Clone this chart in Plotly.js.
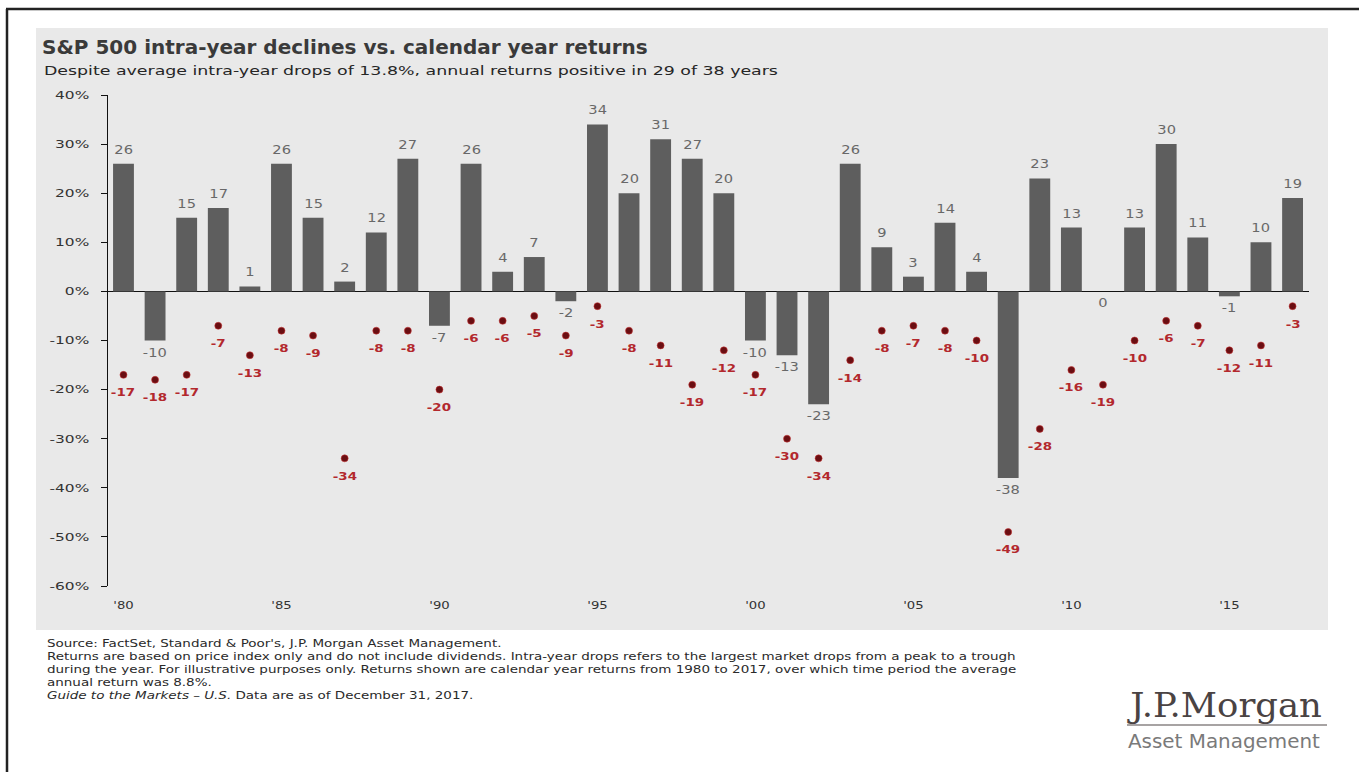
<!DOCTYPE html>
<html>
<head>
<meta charset="utf-8">
<script src="https://cdn.plot.ly/plotly-3.0.1.min.js"></script>
<style>
  html, body { margin: 0; padding: 0; background: #ffffff; }
  #chart { width: 1359px; height: 772px; }
</style>
</head>
<body>
<div id="chart"></div>
<script>
// ---- Data ----
const years = [1980,1981,1982,1983,1984,1985,1986,1987,1988,1989,1990,1991,1992,1993,1994,1995,1996,1997,1998,1999,2000,2001,2002,2003,2004,2005,2006,2007,2008,2009,2010,2011,2012,2013,2014,2015,2016,2017];
const annualReturns = [26,-10,15,17,1,26,15,2,12,27,-7,26,4,7,-2,34,20,31,27,20,-10,-13,-23,26,9,3,14,4,-38,23,13,0,13,30,11,-1,10,19];
const intraYearDrops = [-17,-18,-17,-7,-13,-8,-9,-34,-8,-8,-20,-6,-6,-5,-9,-3,-8,-11,-19,-12,-17,-30,-34,-14,-8,-7,-8,-10,-49,-28,-16,-19,-10,-6,-7,-12,-11,-3];
const xTickVals = [1980,1985,1990,1995,2000,2005,2010,2015];
const xTickText = ["'80","'85","'90","'95","'00","'05","'10","'15"];
const yTickVals = [40,30,20,10,0,-10,-20,-30,-40,-50,-60];
const yTickText = ["40%","30%","20%","10%","0%","-10%","-20%","-30%","-40%","-50%","-60%"];

const titleText = "S&amp;P 500 intra-year declines vs. calendar year returns";
const subtitleText = "Despite average intra-year drops of 13.8%, annual returns positive in 29 of 38 years";
const footnoteLines = [
  "Source: FactSet, Standard &amp; Poor's, J.P. Morgan Asset Management.",
  "Returns are based on price index only and do not include dividends. Intra-year drops refers to the largest market drops from a peak to a trough",
  "during the year. For illustrative purposes only. Returns shown are calendar year returns from 1980 to 2017, over which time period the average",
  "annual return was 8.8%.",
  "<i>Guide to the Markets – U.S.</i> Data are as of December 31, 2017."
];

// ---- Geometry helpers (pixel -> paper) ----
const W = 1359, H = 772;
const L = 108, R = 1309, T = 95, B = 586;
const px = x => (x - L) / (R - L);
const py = y => (B - y) / (B - T);

const barColor = '#5e5e5e';
const barLabelColor = '#686868';
const dropLabelColor = '#b3282d';
const sans = 'DejaVu Sans, Arial, sans-serif';

const traces = [
  {
    type: 'bar',
    x: years,
    y: annualReturns,
    width: 0.66,
    marker: { color: barColor },
    hoverinfo: 'x+y',
    showlegend: false
  },
  {
    type: 'scatter',
    mode: 'markers',
    x: years,
    y: intraYearDrops,
    marker: { color: '#6a0e12', size: 7, line: { color: 'rgba(200,50,50,0.55)', width: 1 } },
    hoverinfo: 'x+y',
    showlegend: false
  }
];

const annotations = [];
const numericIdx = [];
years.forEach((yr, i) => {
  const v = annualReturns[i];
  numericIdx.push(annotations.length);
  annotations.push({
    x: yr, y: v, xref: 'x', yref: 'y',
    text: String(v), showarrow: false,
    xanchor: 'center', yanchor: 'middle',
    yshift: v > 0 ? 14 : -12,
    font: { family: sans, size: 12, color: barLabelColor }
  });
  const d = intraYearDrops[i];
  numericIdx.push(annotations.length);
  annotations.push({
    x: yr, y: d, xref: 'x', yref: 'y',
    text: String(d), showarrow: false,
    xanchor: 'center', yanchor: 'middle',
    yshift: -18,
    font: { family: sans, size: 11, color: dropLabelColor, weight: 'bold' }
  });
});

// subtitle
const subIdx = annotations.length;
annotations.push({
  xref: 'paper', yref: 'paper', x: px(42), y: py(71),
  xanchor: 'left', yanchor: 'middle', align: 'left', showarrow: false,
  text: subtitleText,
  font: { family: sans, size: 13, color: '#262626' }
});

// footnotes (one block)
const footIdx = annotations.length;
annotations.push({
  xref: 'paper', yref: 'paper', x: px(45), y: py(636),
  xanchor: 'left', yanchor: 'top', align: 'left', showarrow: false,
  text: footnoteLines.join('<br>'),
  font: { family: sans, size: 10, color: '#2a2a2a' }
});

// logo
const logoIdx = annotations.length;
annotations.push({
  xref: 'paper', yref: 'paper', x: px(1125), y: py(705),
  xanchor: 'left', yanchor: 'middle', align: 'left', showarrow: false,
  text: 'J.P.Morgan',
  font: { family: 'DejaVu Serif, Liberation Serif, serif', size: 33, color: '#4a4343' }
});
const assetIdx = annotations.length;
annotations.push({
  xref: 'paper', yref: 'paper', x: px(1126), y: py(741),
  xanchor: 'left', yanchor: 'middle', align: 'left', showarrow: false,
  text: 'Asset Management',
  font: { family: sans, size: 19, color: '#7a7a7a' }
});

const shapes = [
  { type: 'rect', xref: 'paper', yref: 'paper', layer: 'below',
    x0: px(36), x1: px(1328), y0: py(630), y1: py(28),
    fillcolor: '#e9e9e9', line: { width: 0 } },
  { type: 'line', xref: 'paper', yref: 'paper',
    x0: px(1127), x1: px(1327), y0: py(725), y1: py(725),
    line: { color: '#8a8585', width: 1.5 } },
  { type: 'line', xref: 'paper', yref: 'paper',
    x0: px(6), x1: px(1359), y0: py(9), y1: py(9),
    line: { color: '#222222', width: 2.5 } },
  { type: 'line', xref: 'paper', yref: 'paper',
    x0: px(7), x1: px(7), y0: py(9), y1: py(772),
    line: { color: '#222222', width: 2.5 } }
];

const layout = {
  width: W, height: H,
  margin: { l: L, r: W - R, t: T, b: H - B, pad: 0 },
  paper_bgcolor: '#ffffff',
  plot_bgcolor: 'rgba(0,0,0,0)',
  showlegend: false,
  title: {
    text: titleText,
    xref: 'container', yref: 'container',
    x: 42 / W, y: 1 - 47 / H, xanchor: 'left', yanchor: 'middle',
    font: { family: sans, size: 19, color: '#3a3a3a', weight: 'bold' }
  },
  xaxis: {
    range: [1979.51, 2017.52],
    tickvals: xTickVals, ticktext: xTickText,
    showgrid: false, zeroline: false, showline: false,
    ticks: '', ticklabelstandoff: 11,
    tickfont: { family: sans, size: 11, color: '#333333' },
    fixedrange: true
  },
  yaxis: {
    range: [-60, 40],
    tickvals: yTickVals, ticktext: yTickText,
    showgrid: false,
    zeroline: true, zerolinecolor: '#111111', zerolinewidth: 1.5,
    showline: true, linecolor: '#111111', linewidth: 1.5,
    ticks: 'outside', ticklen: 6, tickcolor: '#111111', tickwidth: 1,
    ticklabelstandoff: 9,
    tickfont: { family: sans, size: 11, color: '#333333' },
    fixedrange: true
  },
  annotations: annotations,
  shapes: shapes
};

// ---- horizontal text stretch (the reference artwork is widened) ----
function stretch(el, sx, mode, targetW) {
  if (!el) return;
  let base = el.getAttribute('data-base-transform');
  if (base === null) {
    base = el.getAttribute('transform') || '';
    el.setAttribute('data-base-transform', base);
  }
  const bb = el.getBBox();
  if (!bb.width) return;
  if (targetW) sx = targetW / bb.width;
  const ax = mode === 'left' ? bb.x : (mode === 'right' ? bb.x + bb.width : bb.x + bb.width / 2);
  el.setAttribute('transform', base + ' translate(' + ax + ',0) scale(' + sx + ',1) translate(' + (-ax) + ',0)');
}
function annText(gd, idx) {
  const g = gd.querySelector('.annotation[data-index="' + idx + '"]');
  return g ? g.querySelector('text.annotation-text') : null;
}
function applyStretch(gd) {
  stretch(gd.querySelector('text.gtitle'), 1, 'left', 606);
  stretch(annText(gd, subIdx), 1, 'left', 735);
  stretch(annText(gd, footIdx), 1, 'left', 971);
  stretch(annText(gd, logoIdx), 1, 'left', 195);
  stretch(annText(gd, assetIdx), 1, 'left', 192);
  numericIdx.forEach(i => stretch(annText(gd, i), 1.22, 'center'));
  gd.querySelectorAll('.yaxislayer-above .ytick text').forEach(t => stretch(t, 1.4, 'right'));
  gd.querySelectorAll('.xaxislayer-above .xtick text').forEach(t => stretch(t, 1.2, 'center'));
}

Plotly.newPlot('chart', traces, layout, { displayModeBar: false, staticPlot: true })
  .then(gd => { applyStretch(gd); });
</script>
</body>
</html>
